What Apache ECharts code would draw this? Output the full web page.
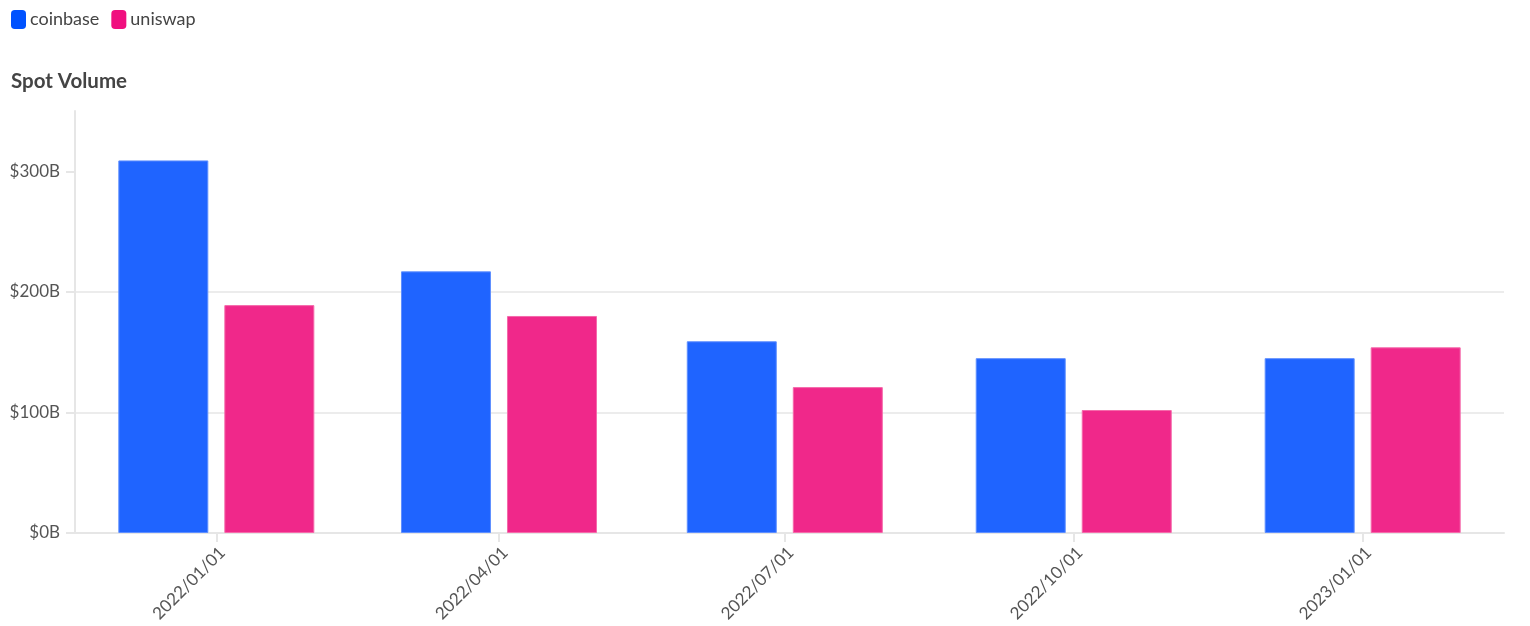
<!DOCTYPE html>
<html>
<head>
<meta charset="utf-8">
<script src="https://cdn.jsdelivr.net/npm/echarts@6/dist/echarts.min.js"></script>
<style>
html,body{margin:0;padding:0;background:#fff;}
#c{width:1530px;height:626px;}
</style>
</head>
<body>
<div id="c"></div>
<script>
var dates = ['2022-01-01', '2022-04-01', '2022-07-01', '2022-10-01', '2023-01-01'];
var coinbase = [309, 217, 159, 145, 145];
var uniswap = [189, 180, 121, 102, 154];
var yTicks = [0, 100, 200, 300];

var FONT = 'Lato, "Noto Sans", sans-serif';
var chart = echarts.init(document.getElementById('c'));
function ts(s){ return echarts.time.parse(s).getTime(); }
var DAY = 86400000;
var tickValues = dates.map(ts);

chart.setOption({
  animation: false,
  textStyle: { fontFamily: FONT },
  legend: {
    left: 6, top: 5,
    itemWidth: 15, itemHeight: 19, itemGap: 12,
    icon: 'roundRect',
    textStyle: { fontSize: 18, color: '#444', fontFamily: FONT, padding: [0, 0, 0, -1] },
    data: [
      { name: 'coinbase', itemStyle: { color: '#0052ff', opacity: 1, borderWidth: 0 } },
      { name: 'uniswap', itemStyle: { color: '#f0107f', opacity: 1, borderWidth: 0 } }
    ]
  },
  title: {
    text: 'Spot Volume', left: 6, top: 66,
    textStyle: { fontSize: 20.5, fontWeight: 'bold', color: '#444', fontFamily: FONT }
  },
  grid: { left: 75, right: 26, top: 111, bottom: 93, containLabel: false },
  xAxis: {
    type: 'value',
    min: ts(dates[0]) - 45 * DAY,
    max: ts(dates[dates.length - 1]) + 45 * DAY,
    axisLine: { show: true, lineStyle: { color: '#e6e6e6', width: 2 } },
    axisTick: { show: true, length: 9, lineStyle: { color: '#e6e6e6', width: 2 }, customValues: tickValues },
    axisLabel: {
      rotate: 45, fontSize: 17, color: '#555', margin: 11, fontFamily: FONT,
      verticalAlign: 'top',
      customValues: tickValues,
      formatter: function (v) { return echarts.time.format(v, '{yyyy}/{MM}/{dd}', false); }
    },
    splitLine: { show: false }
  },
  yAxis: {
    type: 'value', min: 0, max: 350, interval: 100,
    axisLine: { show: true, lineStyle: { color: '#e6e6e6', width: 2 } },
    axisTick: { show: true, length: 9, lineStyle: { color: '#e6e6e6', width: 2 }, customValues: yTicks },
    axisLabel: {
      fontSize: 17, color: '#555', margin: 15, fontFamily: FONT,
      customValues: yTicks,
      formatter: function (v) { return '$' + v + 'B'; }
    },
    splitLine: { show: true, showMaxLine: false, lineStyle: { color: '#e6e6e6', width: 1.5 } }
  },
  series: [
    {
      name: 'coinbase', type: 'bar', barWidth: 90, barGap: '17.8%',
      itemStyle: { color: '#1f64ff', borderColor: '#5f8fff', borderWidth: 1 },
      data: dates.map(function (d, i) { return [ts(d), coinbase[i]]; })
    },
    {
      name: 'uniswap', type: 'bar', barWidth: 90, barGap: '17.8%',
      itemStyle: { color: '#f0288a', borderColor: '#f56aab', borderWidth: 1 },
      data: dates.map(function (d, i) { return [ts(d), uniswap[i]]; })
    }
  ]
});
</script>
</body>
</html>
